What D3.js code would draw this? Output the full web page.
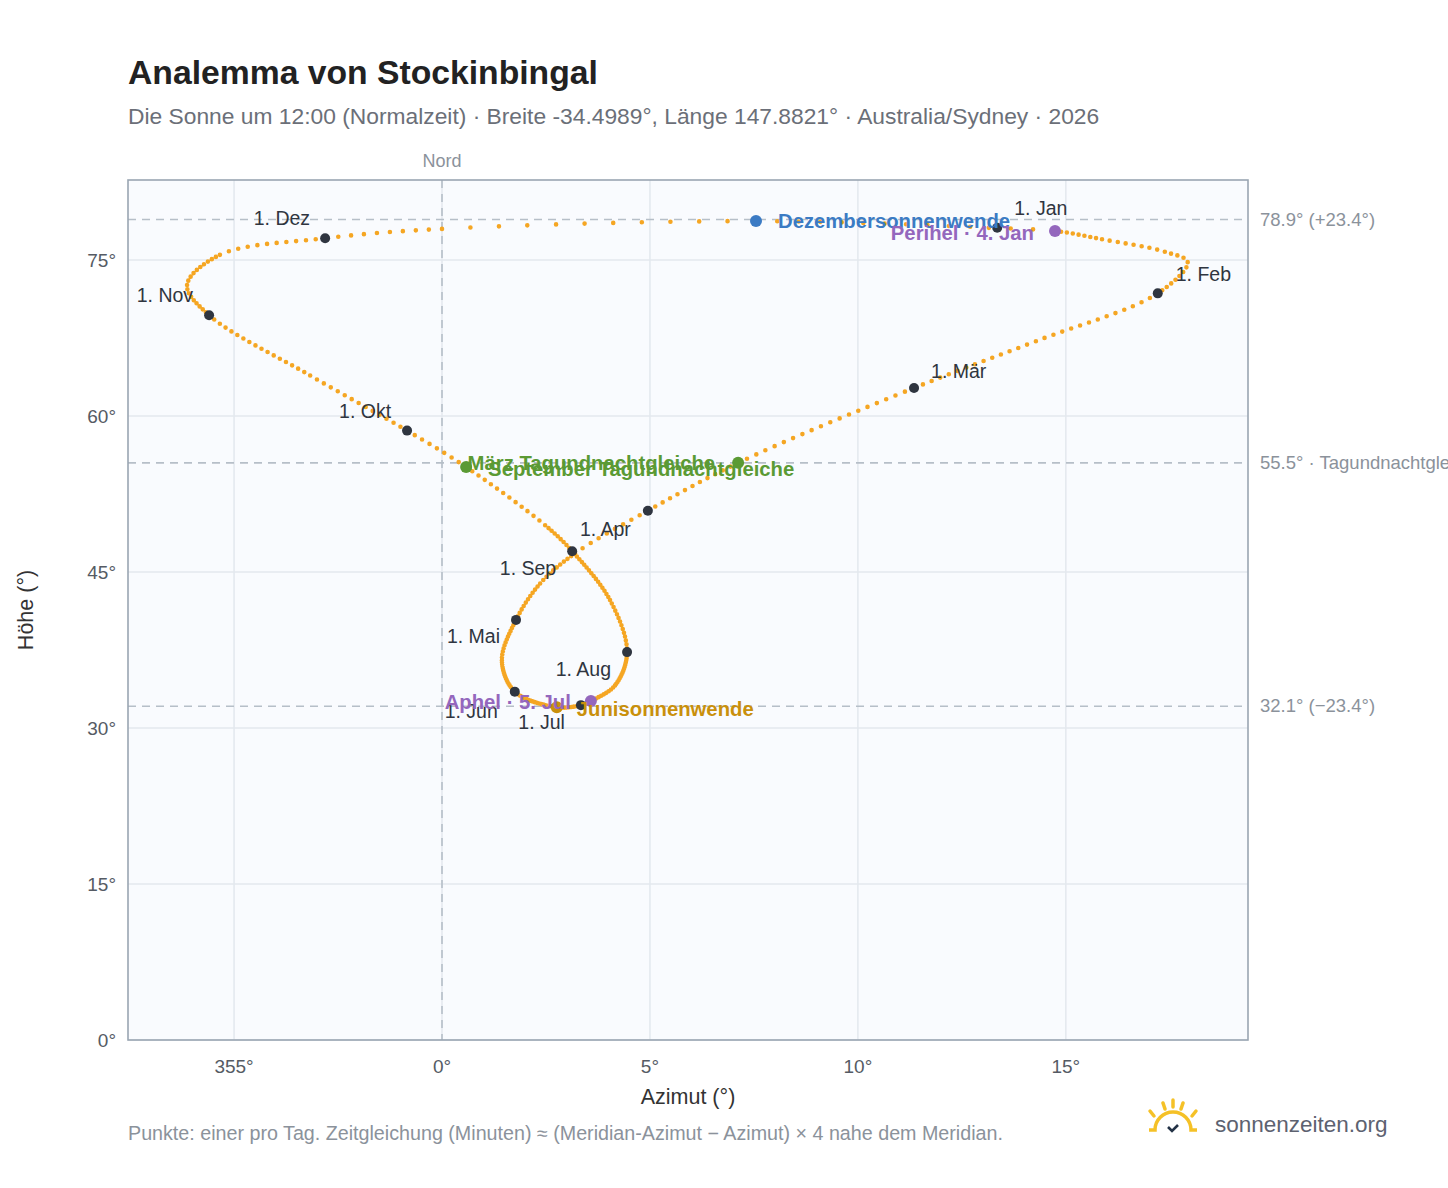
<!DOCTYPE html>
<html><head><meta charset="utf-8">
<script src="https://cdn.jsdelivr.net/npm/d3@7"></script>
<style>
body{margin:0;background:#fff;font-family:"Liberation Sans",Arial,sans-serif;}
</style></head>
<body><div id="chart"></div>
<script>
// knots of the analemma: day of year, azimuth offset (deg from north), altitude (deg)
var knotDays = [1, 4, 12, 20, 24, 32, 46, 60, 79, 91, 100, 110, 121, 135, 152, 172, 182, 186, 196, 213, 227, 244, 253, 266, 274, 288, 305, 314, 324, 335, 344, 355, 365];
var knotAz   = [13.15, 14.74, 15.87, 17.38, 17.93, 17.21, 14.28, 11.35, 7.12, 4.95, 3.2, 2.36, 1.78, 1.44, 1.75, 2.76, 3.34, 3.58, 4.16, 4.45, 4.04, 3.13, 2.48, 0.58, -0.84, -3.17, -5.6, -6.13, -5.34, -2.81, 0.0, 7.55, 12.7];
var knotAlt  = [78.1, 77.8, 77.0, 75.8, 74.8, 71.8, 67.2, 62.7, 55.5, 50.9, 46.8, 43.9, 40.4, 36.5, 33.5, 32.0, 32.2, 32.6, 34.1, 37.3, 42.3, 47.0, 49.5, 55.1, 58.6, 63.9, 69.7, 72.6, 75.5, 77.1, 78.0, 78.75, 78.2];

// first of each month
var monthNames = ["1. Jan","1. Feb","1. Mär","1. Apr","1. Mai","1. Jun","1. Jul","1. Aug","1. Sep","1. Okt","1. Nov","1. Dez"];
var monthAz    = [13.35, 17.21, 11.35, 4.95, 1.78, 1.75, 3.34, 4.45, 3.13, -0.84, -5.6, -2.81];
var monthAlt   = [78.1, 71.8, 62.7, 50.9, 40.4, 33.5, 32.2, 37.3, 47.0, 58.6, 69.7, 77.1];
var monthLabelPos = [[17,-13,"start"],[18,-12,"start"],[17,-10,"start"],[-17,25,"end"],[-16,23,"end"],[-17,26,"end"],[-16,24,"end"],[-16,24,"end"],[-16,24,"end"],[-16,-13,"end"],[-16,-13,"end"],[-15,-13,"end"]];

// special events
var eventNames = ["Dezembersonnenwende","Perihel · 4. Jan","März Tagundnachtgleiche","September Tagundnachtgleiche","Junisonnenwende","Aphel · 5. Jul"];
var eventAz    = [7.55, 14.74, 7.12, 0.58, 2.76, 3.58];
var eventAlt   = [78.75, 77.8, 55.5, 55.1, 32.0, 32.6];
var eventColors = ["#3b7bc4","#9467bd","#5b9a34","#5b9a34","#c9900c","#9467bd"];
var eventLabelPos = [[22,7,"start"],[-21,9,"end"],[-23,7,"end"],[22,9,"start"],[20,9,"start"],[-20,8,"end"]];

var refLines = [78.9, 55.5, 32.1];
var refLabels = ["78.9° (+23.4°)","55.5° · Tagundnachtgleiche","32.1° (−23.4°)"];
var xTicks = [-5, 0, 5, 10, 15];
var xTickLabels = ["355°","0°","5°","10°","15°"];
var yTicks = [0, 15, 30, 45, 60, 75];

var W = 1448, H = 1188;
var margin = {top: 180, right: 200, bottom: 148, left: 128};
var width = W - margin.left - margin.right, height = H - margin.top - margin.bottom;

var svg = d3.select("#chart").append("svg").attr("width", W).attr("height", H);
var x = d3.scaleLinear().domain([-7.55, 19.38]).range([0, width]);
var y = d3.scaleLinear().domain([0, 82.7]).range([height, 0]);
var g = svg.append("g").attr("transform", "translate(" + margin.left + "," + margin.top + ")");

svg.append("text").attr("x", 128).attr("y", 84).attr("font-size", 33.7).attr("font-weight", "bold").attr("fill", "#222").text("Analemma von Stockinbingal");
svg.append("text").attr("x", 128).attr("y", 124).attr("font-size", 22.8).attr("fill", "#6b6f78")
  .text("Die Sonne um 12:00 (Normalzeit) · Breite -34.4989°, Länge 147.8821° · Australia/Sydney · 2026");

g.append("rect").attr("width", width).attr("height", height).attr("fill", "#f9fbfe");

// grid
g.selectAll(".gx").data(xTicks).enter().append("line")
  .attr("x1", d => x(d)).attr("x2", d => x(d)).attr("y1", 0).attr("y2", height)
  .attr("stroke", "#e3e8ee").attr("stroke-width", 1.5);
g.selectAll(".gy").data(yTicks).enter().append("line")
  .attr("y1", d => y(d)).attr("y2", d => y(d)).attr("x1", 0).attr("x2", width)
  .attr("stroke", "#e3e8ee").attr("stroke-width", 1.5);

// tick labels
g.selectAll(".tx").data(xTicks).enter().append("text")
  .attr("x", d => x(d)).attr("y", height + 33).attr("text-anchor", "middle")
  .attr("font-size", 19).attr("fill", "#555b64").text((d, i) => xTickLabels[i]);
g.selectAll(".ty").data(yTicks).enter().append("text")
  .attr("x", -12).attr("y", d => y(d) + 7).attr("text-anchor", "end")
  .attr("font-size", 19).attr("fill", "#555b64").text(d => d + "°");

// reference lines
g.selectAll(".ref").data(refLines).enter().append("line")
  .attr("x1", 0).attr("x2", width).attr("y1", d => y(d)).attr("y2", d => y(d))
  .attr("stroke", "#b6bfc8").attr("stroke-width", 1.6).attr("stroke-dasharray", "8,6");
g.selectAll(".refl").data(refLines).enter().append("text")
  .attr("x", width + 12).attr("y", d => y(d) + 6).attr("font-size", 18.5).attr("fill", "#8b929b")
  .text((d, i) => refLabels[i]);
g.append("line").attr("x1", x(0)).attr("x2", x(0)).attr("y1", 0).attr("y2", height)
  .attr("stroke", "#b6bfc8").attr("stroke-width", 1.6).attr("stroke-dasharray", "8,6");
g.append("text").attr("x", x(0)).attr("y", -13).attr("text-anchor", "middle")
  .attr("font-size", 18).attr("fill", "#8b929b").text("Nord");

// analemma: one dashed piece per knot interval, one dot per day
var n = knotDays.length;
var line = d3.line().x(d => x(d[0])).y(d => y(d[1])).curve(d3.curveCatmullRom.alpha(0.5));
function knot(i) { i = (i + n) % n; return [knotAz[i], knotAlt[i]]; }
for (var i = 0; i < n; i++) {
  var dd = line([knot(i - 1), knot(i), knot(i + 1), knot(i + 2)]);
  var parts = dd.split("C");
  var seg = "M" + x(knotAz[i]) + "," + y(knotAlt[i]) + "C" + parts[2];
  var days = i < n - 1 ? knotDays[i + 1] - knotDays[i] : 365 - knotDays[i] + knotDays[0];
  var p = g.append("path").attr("d", seg).attr("fill", "none").attr("stroke", "#f5a623")
    .attr("stroke-width", 4.6).attr("stroke-linecap", "round");
  var len = p.node().getTotalLength();
  p.attr("stroke-dasharray", "0," + (len / days));
}

// months
g.selectAll(".md").data(monthNames).enter().append("circle")
  .attr("cx", (d, i) => x(monthAz[i])).attr("cy", (d, i) => y(monthAlt[i])).attr("r", 5)
  .attr("fill", "#2f3540");
g.selectAll(".ml").data(monthNames).enter().append("text")
  .attr("x", (d, i) => x(monthAz[i]) + monthLabelPos[i][0])
  .attr("y", (d, i) => y(monthAlt[i]) + monthLabelPos[i][1])
  .attr("text-anchor", (d, i) => monthLabelPos[i][2])
  .attr("font-size", 19.5).attr("fill", "#2f3540").text(d => d);

// events
g.selectAll(".ed").data(eventNames).enter().append("circle")
  .attr("cx", (d, i) => x(eventAz[i])).attr("cy", (d, i) => y(eventAlt[i])).attr("r", 6)
  .attr("fill", (d, i) => eventColors[i]);
g.selectAll(".el").data(eventNames).enter().append("text")
  .attr("x", (d, i) => x(eventAz[i]) + eventLabelPos[i][0])
  .attr("y", (d, i) => y(eventAlt[i]) + eventLabelPos[i][1])
  .attr("text-anchor", (d, i) => eventLabelPos[i][2])
  .attr("font-size", 20.3).attr("font-weight", "bold").attr("fill", (d, i) => eventColors[i]).text(d => d);

g.append("rect").attr("width", width).attr("height", height).attr("fill", "none")
  .attr("stroke", "#9aa6b2").attr("stroke-width", 1.6);

// axis titles
svg.append("text").attr("x", margin.left + width / 2).attr("y", 1104).attr("text-anchor", "middle")
  .attr("font-size", 21.5).attr("fill", "#333").text("Azimut (°)");
svg.append("text").attr("transform", "translate(33,610) rotate(-90)").attr("text-anchor", "middle")
  .attr("font-size", 21.5).attr("fill", "#333").text("Höhe (°)");

svg.append("text").attr("x", 128).attr("y", 1140).attr("font-size", 19.7).attr("fill", "#8b929b")
  .text("Punkte: einer pro Tag. Zeitgleichung (Minuten) ≈ (Meridian-Azimut − Azimut) × 4 nahe dem Meridian.");

// logo
var logo = svg.append("g").attr("transform", "translate(1173,1130)");
logo.append("path").attr("d", "M-24,0 L-18,0 A18,18 0 0 1 18,0 L24,0").attr("fill", "none")
  .attr("stroke", "#f5c127").attr("stroke-width", 3.5);
[[-19,-14,-23,-19],[-8,-21,-10,-27],[8,-21,10,-27],[19,-14,23,-19],[0,-23,0,-30]].forEach(function(s){
  logo.append("line").attr("x1", s[0]).attr("y1", s[1]).attr("x2", s[2]).attr("y2", s[3])
    .attr("stroke", "#f5c127").attr("stroke-width", 3.5).attr("stroke-linecap", "round");
});
logo.append("path").attr("d", "M-5,-3 L-1,1 L5,-5").attr("fill", "none").attr("stroke", "#233246").attr("stroke-width", 2.6);
svg.append("text").attr("x", 1215).attr("y", 1132).attr("font-size", 22.5).attr("fill", "#5d6270").text("sonnenzeiten.org");
</script></body></html>
